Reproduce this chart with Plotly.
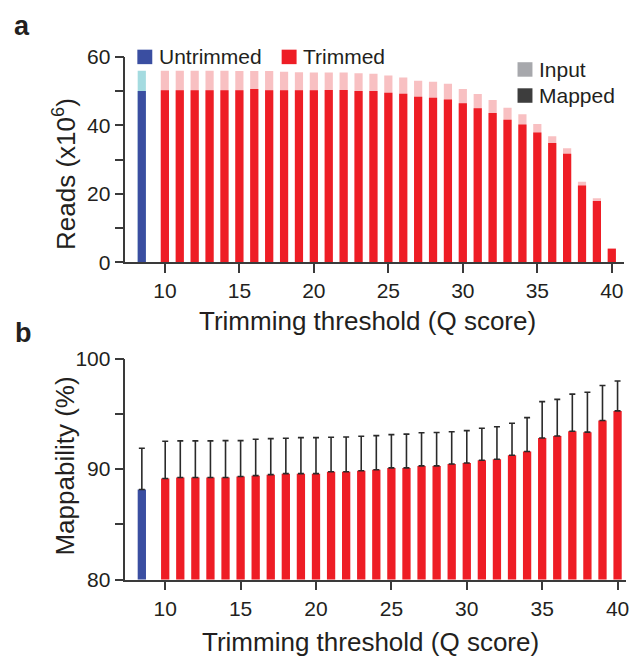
import plotly.graph_objects as go

# ---------------- data ----------------
q_trimmed = list(range(10, 41))
q_untrimmed = [8.45]

# Panel a: reads (x10^6)
input_untrimmed = [55.9]
mapped_untrimmed = [50.0]
input_trimmed = [55.9, 55.9, 55.9, 55.9, 55.9, 55.8, 55.8, 55.8, 55.6, 55.5, 55.4,
                 55.4, 55.4, 55.2, 55.0, 54.5, 53.9, 53.0, 52.7, 52.1, 50.6,
                 49.1, 47.4, 45.1, 43.2, 40.4, 36.8, 33.3, 23.5, 18.7, 4.1]
mapped_trimmed = [50.2, 50.2, 50.2, 50.2, 50.2, 50.2, 50.6, 50.2, 50.2, 50.2, 50.2,
                  50.3, 50.3, 50.0, 50.0, 49.5, 49.2, 48.3, 48.05, 47.5, 46.4,
                  45.0, 43.55, 41.6, 40.2, 37.9, 34.8, 31.7, 22.4, 17.9, 4.0]

# Panel b: mappability (%)
map_untrimmed = [88.16]
sd_untrimmed = [3.73]
map_trimmed = [89.15, 89.24, 89.24, 89.24, 89.24, 89.33, 89.41, 89.50, 89.59, 89.59, 89.59,
               89.76, 89.76, 89.85, 89.94, 90.11, 90.11, 90.29, 90.29, 90.46, 90.55,
               90.81, 90.90, 91.25, 91.60, 92.82, 93.00, 93.43, 93.35, 94.40, 95.27]
sd_trimmed = [3.38, 3.32, 3.32, 3.32, 3.34, 3.25, 3.30, 3.26, 3.21, 3.26, 3.26,
              3.12, 3.15, 3.12, 3.09, 3.01, 3.06, 3.00, 3.03, 2.92, 2.94,
              2.89, 2.94, 2.91, 3.06, 3.29, 3.32, 3.36, 3.61, 3.17, 2.71]

xticks = [10, 15, 20, 25, 30, 35, 40]
ya_ticks = [0, 20, 40, 60]
ya_minor = [10, 30, 50]
yb_ticks = [80, 90, 100]
yb_minor = [85, 95]

# ---------------- style ----------------
W, H = 631, 671
FONT = "Liberation Sans, Arial, Helvetica, sans-serif"
TXT = "#231f20"
AX = "#3a3a3a"
BLUE = "#3a4ea1"
CYAN = "#a4dbe0"
RED = "#ee1d25"
PINK = "#f8c0c2"
BW = 0.55


def px_x(p):
    return p / W


def px_y(p):
    return 1 - p / H


fig = go.Figure()

# panel a
fig.add_trace(go.Bar(x=q_untrimmed, y=input_untrimmed, marker_color=CYAN, width=BW,
                     xaxis="x", yaxis="y", showlegend=False, marker_line_width=0))
fig.add_trace(go.Bar(x=q_untrimmed, y=mapped_untrimmed, marker_color=BLUE, width=BW,
                     xaxis="x", yaxis="y", showlegend=False, marker_line_width=0))
fig.add_trace(go.Bar(x=q_trimmed, y=input_trimmed, marker_color=PINK, width=BW,
                     xaxis="x", yaxis="y", showlegend=False, marker_line_width=0))
fig.add_trace(go.Bar(x=q_trimmed, y=mapped_trimmed, marker_color=RED, width=BW,
                     xaxis="x", yaxis="y", showlegend=False, marker_line_width=0))

# panel b
err_style = dict(type="data", symmetric=False, color="#2a2a2a", thickness=1.6, width=3)
fig.add_trace(go.Bar(x=q_untrimmed, y=map_untrimmed, marker_color=BLUE, width=BW,
                     xaxis="x2", yaxis="y2", showlegend=False, marker_line_width=0,
                     error_y=dict(err_style, array=sd_untrimmed,
                                  arrayminus=[0] * len(sd_untrimmed))))
fig.add_trace(go.Bar(x=q_trimmed, y=map_trimmed, marker_color=RED, width=BW,
                     xaxis="x2", yaxis="y2", showlegend=False, marker_line_width=0,
                     error_y=dict(err_style, array=sd_trimmed,
                                  arrayminus=[0] * len(sd_trimmed))))

axis_common = dict(showline=True, linecolor=AX, linewidth=1.5, ticks="outside",
                   ticklen=9, tickwidth=1.5, tickcolor=AX, showgrid=False,
                   zeroline=False, tickfont=dict(family=FONT, size=21, color=TXT),
                   fixedrange=True, ticklabeloverflow="allow")


def minor(vals):
    return dict(tickmode="array", tickvals=vals, ticks="outside", ticklen=9,
                tickwidth=1.5, tickcolor=AX, showgrid=False)


fig.update_layout(
    width=W, height=H,
    margin=dict(l=0, r=0, t=0, b=0),
    paper_bgcolor="white", plot_bgcolor="white",
    barmode="overlay",
    xaxis=dict(axis_common, domain=[px_x(126), px_x(627)], range=[7.35, 40.82],
               tickmode="array", tickvals=xticks, anchor="y"),
    yaxis=dict(axis_common, domain=[px_y(259.3), px_y(46.3)], range=[0, 60],
               tickmode="array", tickvals=ya_ticks, minor=minor(ya_minor), anchor="x"),
    xaxis2=dict(axis_common, domain=[px_x(126), px_x(629)], range=[7.36, 40.56],
                tickmode="array", tickvals=xticks, anchor="y2"),
    yaxis2=dict(axis_common, domain=[px_y(587.7), px_y(359)], range=[80, 100],
                tickmode="array", tickvals=yb_ticks, minor=minor(yb_minor), anchor="x2"),
    font=dict(family=FONT, color=TXT),
)

ann = []


def label(text, x, y, size, bold=False, angle=0, xanchor="center", yanchor="middle"):
    t = f"<b>{text}</b>" if bold else text
    ann.append(dict(text=t, x=px_x(x), y=px_y(y), xref="paper", yref="paper",
                    showarrow=False, textangle=angle, xanchor=xanchor, yanchor=yanchor,
                    font=dict(family=FONT, size=size, color=TXT)))


label("a", 22, 14, 27, bold=True)
label("b", 24, 332, 27, bold=True)
label("Reads (x10<sup>6</sup>)", 65, 168, 26, angle=-90)
label("Mappability (%)", 65, 470, 26, angle=-90)
label("Trimming threshold (Q score)", 369, 320, 26)
label("Trimming threshold (Q score)", 372, 652, 26)

# legend
label("Untrimmed", 158, 46, 21, xanchor="left")
label("Trimmed", 302, 46, 21, xanchor="left")
label("Input", 540, 60, 21, xanchor="left")
label("Mapped", 540, 86, 21, xanchor="left")

shapes = []


def sq(x0, y0, color, s=15):
    shapes.append(dict(type="rect", xref="paper", yref="paper",
                       x0=px_x(x0), x1=px_x(x0 + s), y0=px_y(y0 + s), y1=px_y(y0),
                       fillcolor=color, line_width=0))


sq(138, 39, BLUE)
sq(283, 39, RED)
sq(520, 52, "#a7a8ac")
sq(520, 79, "#3d3d3d")

fig.update_layout(annotations=ann, shapes=shapes)

fig.write_html("out.html")
